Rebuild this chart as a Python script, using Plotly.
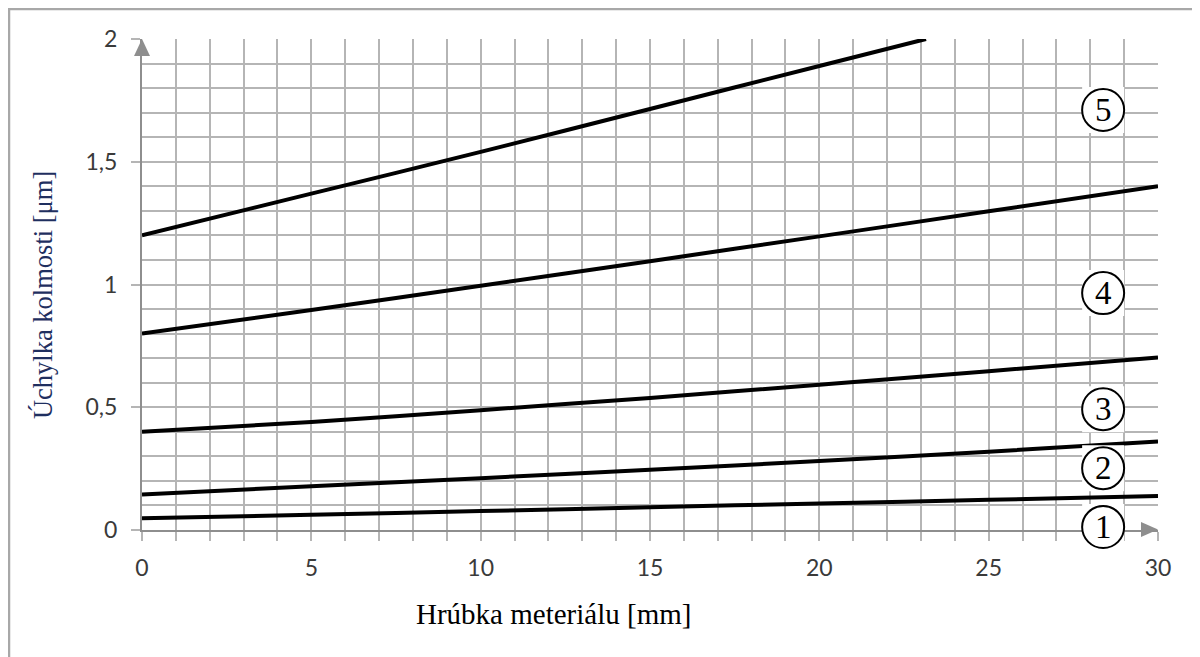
import plotly.graph_objects as go

# ---- data ----
x_main = [0, 5, 10, 15, 20, 25, 30]
curve1 = [0.048, 0.062, 0.077, 0.093, 0.108, 0.123, 0.138]
curve2 = [0.145, 0.178, 0.211, 0.245, 0.281, 0.319, 0.36]
curve3 = [0.40, 0.44, 0.488, 0.538, 0.592, 0.647, 0.703]
curve4 = [0.80, 0.896, 0.995, 1.095, 1.196, 1.298, 1.40]
x_curve5 = [0, 5, 10, 15, 20, 23.15]
curve5 = [1.20, 1.37, 1.54, 1.715, 1.89, 2.0]

x_tick_vals = list(range(0, 31))
x_tick_labels = [str(v) if v % 5 == 0 else "" for v in x_tick_vals]
y_tick_vals = [0, 0.5, 1, 1.5, 2]
y_tick_labels = ["0", "0,5", "1", "1,5", "2"]

curve_labels = ["1", "2", "3", "4", "5"]
label_x = 28.38
label_y = [0.012, 0.252, 0.492, 0.965, 1.711]

x_title = "Hrúbka meteriálu [mm]"
y_title = "Úchylka kolmosti [μm]"

X_RANGE = [0, 30]
Y_RANGE = [0, 2]

GRID = "#b5b5b5"
AXIS = "#8e8e8e"
TICKFONT = dict(family="Lato, Open Sans, sans-serif", size=23, color="#3a3a3a")
SERIF = "Liberation Serif, Times New Roman, serif"


def px(v):
    return (v - X_RANGE[0]) / (X_RANGE[1] - X_RANGE[0])


def py(v):
    return (v - Y_RANGE[0]) / (Y_RANGE[1] - Y_RANGE[0])


fig = go.Figure()
series = [(x_main, curve1), (x_main, curve2), (x_main, curve3), (x_main, curve4), (x_curve5, curve5)]
for xs, ys in series:
    fig.add_trace(go.Scatter(x=xs, y=ys, mode="lines",
                             line=dict(color="black", width=4, shape="spline", smoothing=0.6),
                             showlegend=False, hoverinfo="skip", cliponaxis=False))

shapes = []
# outer frame
shapes.append(dict(type="rect", xref="paper", yref="paper", x0=-0.1309, x1=1.0374, y0=-0.35, y1=1.0611,
                   line=dict(color="#a8a8a8", width=2.5), fillcolor="rgba(0,0,0,0)", layer="below"))
# y-axis arrow head
shapes.append(dict(type="path", xref="paper", yref="paper", xsizemode="pixel", ysizemode="pixel",
                   xanchor=px(X_RANGE[0]), yanchor=py(Y_RANGE[1]), path="M -8,-17 L 8,-17 L 0,0 Z",
                   fillcolor="#8e8e8e", line=dict(width=0), layer="above"))
# x-axis arrow head
shapes.append(dict(type="path", xref="paper", yref="paper", xsizemode="pixel", ysizemode="pixel",
                   xanchor=px(X_RANGE[1]), yanchor=py(Y_RANGE[0]), path="M -17,-7 L -17,8 L 0,0.5 Z",
                   fillcolor="#8e8e8e", line=dict(width=0), layer="above"))
# numbered circles
for lab, yv in zip(curve_labels, label_y):
    shapes.append(dict(type="rect", xref="paper", yref="paper", xsizemode="pixel", ysizemode="pixel",
                       xanchor=px(label_x), yanchor=py(yv), x0=-21, x1=21, y0=-23, y1=23,
                       fillcolor="white", line=dict(width=0), layer="above"))
    shapes.append(dict(type="circle", xref="paper", yref="paper", xsizemode="pixel", ysizemode="pixel",
                       xanchor=px(label_x), yanchor=py(yv), x0=-21, x1=21, y0=-21, y1=21,
                       fillcolor="white", line=dict(color="black", width=2), layer="above"))

annotations = []
for lab, yv in zip(curve_labels, label_y):
    annotations.append(dict(x=label_x, y=yv, xref="x", yref="y", text=lab, showarrow=False,
                            font=dict(family=SERIF, size=33, color="black"),
                            xanchor="center", yanchor="middle"))
annotations.append(dict(x=0.4055, y=-0.171, xref="paper", yref="paper", text=x_title, showarrow=False,
                        font=dict(family=SERIF, size=29, color="black"), xanchor="center", yanchor="middle"))
annotations.append(dict(x=-0.0974, y=0.4786, xref="paper", yref="paper", text=y_title, showarrow=False,
                        textangle=-90, font=dict(family=SERIF, size=26.5, color="#1f2f5f"),
                        xanchor="center", yanchor="middle"))

fig.update_layout(
    width=1192, height=649, autosize=False,
    margin=dict(l=134, r=42, t=31, b=127),
    paper_bgcolor="white", plot_bgcolor="white",
    shapes=shapes, annotations=annotations,
    xaxis=dict(range=X_RANGE, tickvals=x_tick_vals, ticktext=x_tick_labels,
               showgrid=True, gridcolor=GRID, gridwidth=1.5,
               ticks="outside", ticklen=9, tickwidth=1.5, tickcolor=GRID,
               showline=True, linecolor=AXIS, linewidth=2, zeroline=False,
               tickfont=TICKFONT, ticklabelstandoff=7, fixedrange=True),
    yaxis=dict(range=Y_RANGE, tickvals=y_tick_vals, ticktext=y_tick_labels,
               showgrid=True, gridcolor=GRID, gridwidth=1.5,
               ticks="outside", ticklen=9, tickwidth=1.5, tickcolor=GRID,
               minor=dict(tickvals=[i / 10 for i in range(21)], showgrid=True,
                          gridcolor=GRID, gridwidth=1.5, ticks=""),
               showline=True, linecolor=AXIS, linewidth=2, zeroline=False,
               tickfont=TICKFONT, ticklabelstandoff=9, fixedrange=True),
)

fig.write_html("out.html")
